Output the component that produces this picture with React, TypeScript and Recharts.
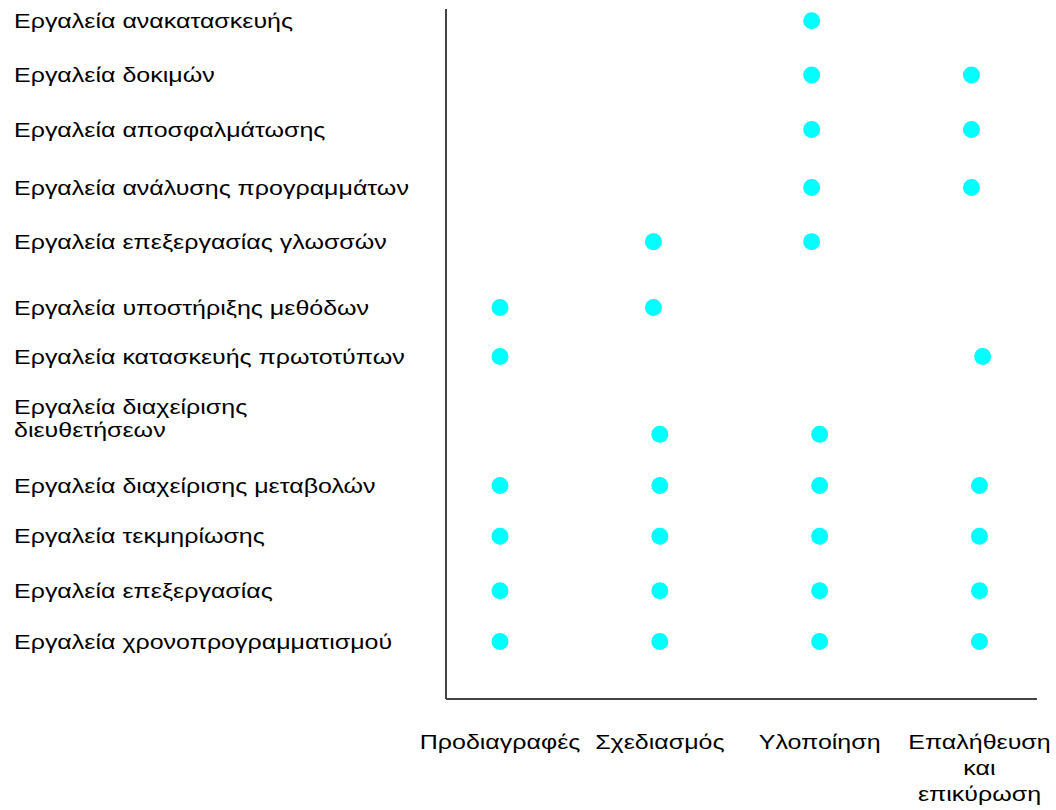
import { ScatterChart, Scatter, XAxis, YAxis } from 'recharts';

// phases of the development process (x axis)
const phases = ["Προδιαγραφές", "Σχεδιασμός", "Υλοποίηση", "Επαλήθευση και επικύρωση"];
const phaseTicks = [1, 2, 3, 4];

// tool categories (rows, top to bottom)
const tools = [
  "Εργαλεία ανακατασκευής",
  "Εργαλεία δοκιμών",
  "Εργαλεία αποσφαλμάτωσης",
  "Εργαλεία ανάλυσης προγραμμάτων",
  "Εργαλεία επεξεργασίας γλωσσών",
  "Εργαλεία υποστήριξης μεθόδων",
  "Εργαλεία κατασκευής πρωτοτύπων",
  "Εργαλεία διαχείρισης\nδιευθετήσεων",
  "Εργαλεία διαχείρισης μεταβολών",
  "Εργαλεία τεκμηρίωσης",
  "Εργαλεία επεξεργασίας",
  "Εργαλεία χρονοπρογραμματισμού",
];

// row position of each tool (0 = top of axis)
const toolRows = [0.21, 1.17, 2.14, 3.17, 4.13, 5.3, 6.17, 7.55, 8.46, 9.36, 10.33, 11.23];

// phase position of each dot in a row (1 = Προδιαγραφές ... 4 = Επαλήθευση)
const toolPhases = [
  [2.95],
  [2.95, 3.95],
  [2.95, 3.95],
  [2.95, 3.95],
  [1.96, 2.95],
  [1.0, 1.96],
  [1.0, 4.02],
  [2.0, 3.0],
  [1.0, 2.0, 3.0, 4.0],
  [1.0, 2.0, 3.0, 4.0],
  [1.0, 2.0, 3.0, 4.0],
  [1.0, 2.0, 3.0, 4.0],
];

const points = tools.flatMap((tool, i) =>
  toolPhases[i].map((x) => ({ tool, x, y: toolRows[i] }))
);

const font = "'Liberation Sans', Arial, sans-serif";
// the original lettering is noticeably wider than plain Arial
const stretch = 1.25;

const ToolTick = ({ y, payload }: any) => {
  const idx = toolRows.indexOf(payload.value);
  const lines = (tools[idx] || "").split("\n");
  const start = lines.length > 1 ? -(lines.length - 1) * 23 - 4 : 0;
  return (
    <g transform={`translate(6,${y}) scale(${stretch},1)`}>
      <text x={0} y={0} fontSize={20} fontFamily={font} fill="#000" textAnchor="start" dominantBaseline="central">
        {lines.map((l, i) => (
          <tspan key={i} x={0} dy={i === 0 ? start : 23}>{l}</tspan>
        ))}
      </text>
    </g>
  );
};

const PhaseTick = ({ x, y, payload }: any) => {
  const idx = phaseTicks.indexOf(payload.value);
  const lines = (phases[idx] || "").split(" ");
  return (
    <g transform={`translate(${x},${y}) scale(${stretch},1)`}>
      <text x={0} y={0} fontSize={20} fontFamily={font} fill="#000" textAnchor="middle" dominantBaseline="central">
        {lines.map((l, i) => (
          <tspan key={i} x={0} dy={i === 0 ? 41 : 26}>{l}</tspan>
        ))}
      </text>
    </g>
  );
};

const Dot = ({ cx, cy }: any) => <circle cx={cx} cy={cy} r={8.5} fill="#00FFFF" />;

export default function App() {
  return (
    <div style={{ width: 1056, height: 810, padding: 8, boxSizing: "border-box" }}>
      <style>{`body { margin: 0; } .recharts-wrapper, .recharts-surface { overflow: visible !important; }`}</style>
      <ScatterChart width={1040} height={794} margin={{ top: 1, right: 11, bottom: 0, left: 0 }}>
        <XAxis
          type="number"
          dataKey="x"
          domain={[0.662, 4.36]}
          ticks={phaseTicks}
          interval={0}
          height={103}
          tickLine={false}
          tickSize={0}
          axisLine={{ stroke: "#444", strokeWidth: 2 }}
          tick={<PhaseTick />}
        />
        <YAxis
          type="number"
          dataKey="y"
          reversed
          domain={[0, 12.25]}
          ticks={toolRows}
          interval={0}
          width={438}
          tickLine={false}
          axisLine={{ stroke: "#444", strokeWidth: 2 }}
          tick={<ToolTick />}
        />
        <Scatter data={points} shape={<Dot />} isAnimationActive={false} />
      </ScatterChart>
    </div>
  );
}
